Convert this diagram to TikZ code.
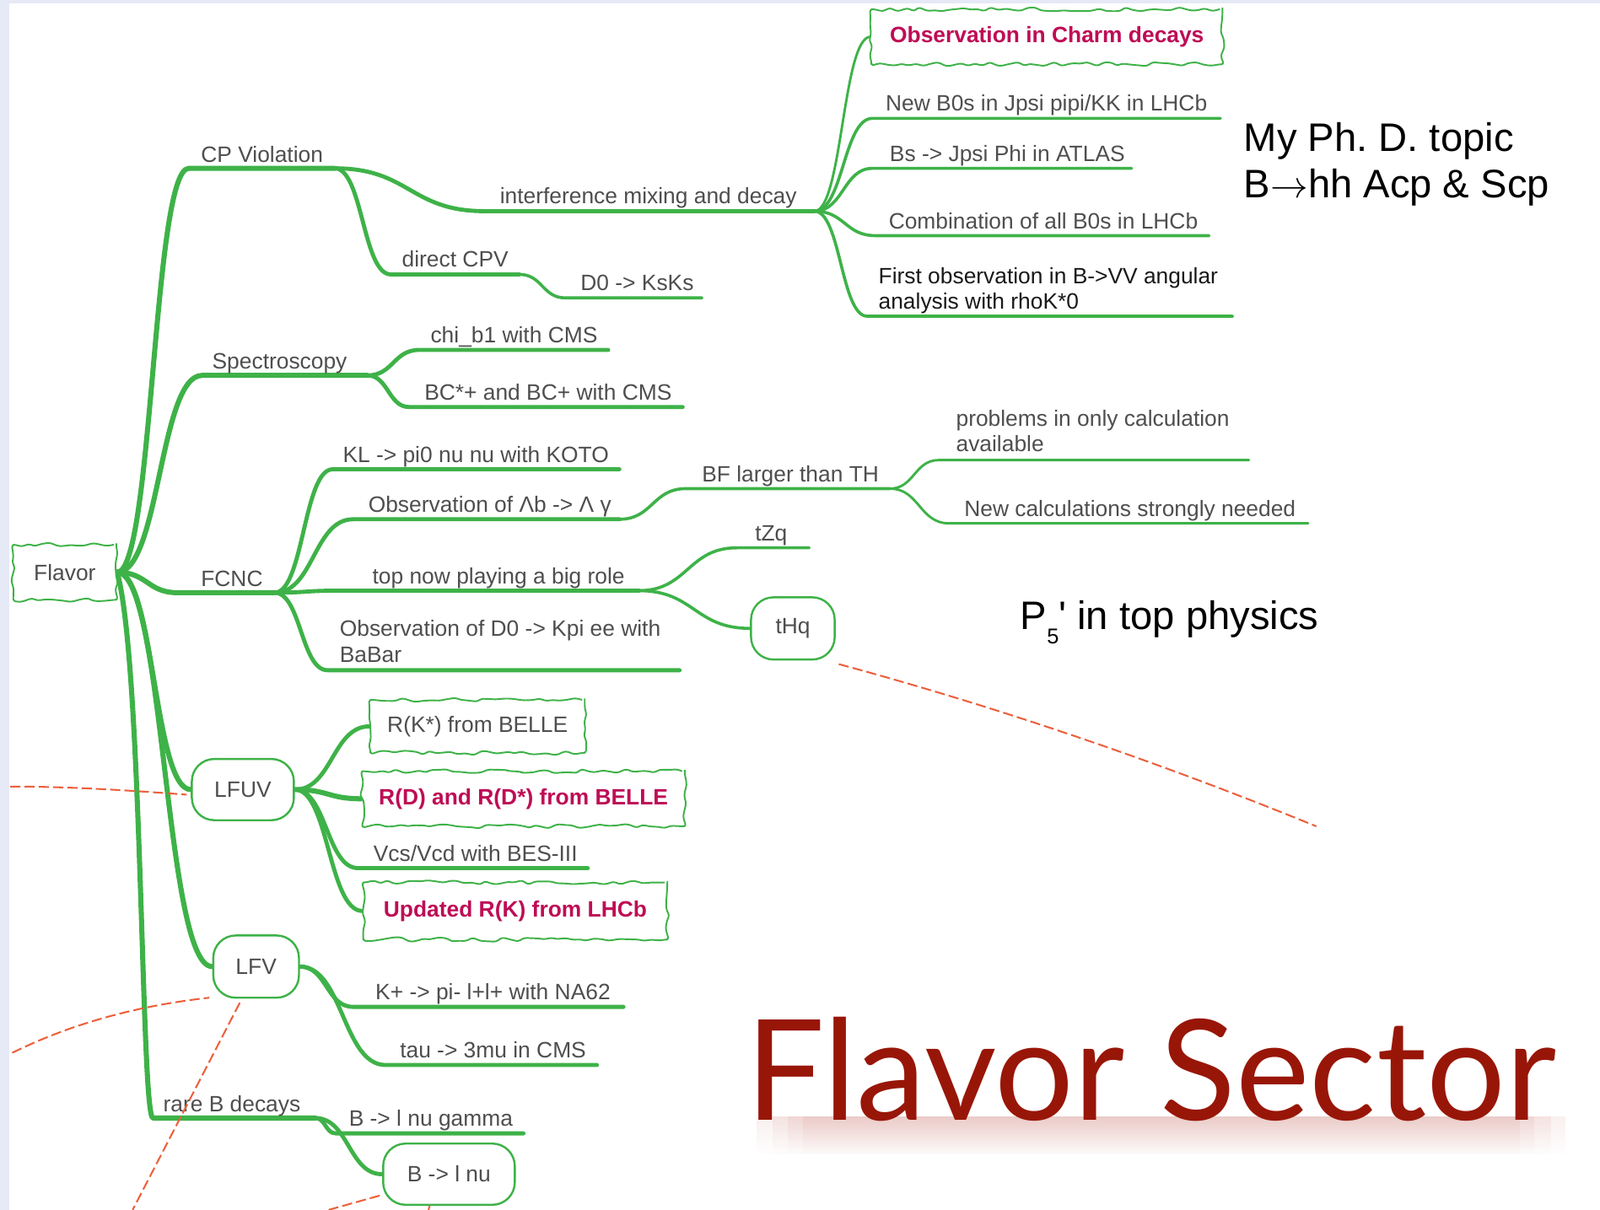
\documentclass[tikz,border=0pt]{standalone}
\usepackage{fontspec}
\usepackage{graphicx}
\setmainfont{Liberation Sans}
\newfontfamily\arialtxt{Liberation Sans}
\newfontfamily\flfont{Lato}
\usetikzlibrary{calc,decorations.pathmorphing,fadings}
\pgfdeclarelayer{back}
\pgfdeclarelayer{lines}
\pgfsetlayers{back,lines,main}
\definecolor{mmgreen}{RGB}{62,178,72}
\definecolor{labgray}{RGB}{78,78,78}
\definecolor{crim}{RGB}{190,12,85}
\definecolor{dred}{RGB}{152,22,8}
\definecolor{shad}{RGB}{205,120,110}
\definecolor{redash}{RGB}{236,96,60}
\definecolor{lav}{RGB}{230,233,246}
\newcommand\labfont{\fontsize{21.8}{25}\selectfont}
\newcommand\bigfont{\arialtxt\fontsize{39}{46}\selectfont}
\tikzfading[name=shfade, top color=transparent!0, bottom color=transparent!100]
\tikzset{
  br/.style={to path={let \p1=(\tikztostart), \p2=(\tikztotarget), \n1={#1*(\x2-\x1)} in .. controls (\x1+\n1,\y1) and (\x2-\n1,\y2) .. (\tikztotarget) \tikztonodes}},
  br/.default=0.5,
  g1/.style={draw=mmgreen,line width=5pt,line cap=round,line join=round},
  g2/.style={draw=mmgreen,line width=4pt,line cap=round,line join=round},
  g3/.style={draw=mmgreen,line width=3pt,line cap=round,line join=round},
  g4/.style={draw=mmgreen,line width=2.4pt,line cap=round,line join=round},
  lab/.style={anchor=south west,inner sep=0pt,outer sep=0pt,text depth=0pt,text=labgray,font=\labfont,align=left},
  cloudn/.style={draw=mmgreen,line width=1.6pt,line join=round,fill=white,decorate,decoration={random steps,segment length=7pt,amplitude=2.2pt},rounded corners=2.5pt,inner sep=0pt,font=\labfont,text=labgray},
  hot/.style={font=\labfont\bfseries,text=crim},
  rnode/.style={draw=mmgreen,line width=2pt,fill=white,rounded corners=22pt,inner sep=0pt,font=\labfont,text=labgray},
  reddash/.style={draw=redash,line width=1.7pt,dash pattern=on 10pt off 4pt},
  bigtxt/.style={anchor=south west,inner sep=0pt,outer sep=0pt,text depth=0pt,font=\bigfont,align=left}
}
\begin{document}
\frenchspacing
\begin{tikzpicture}[x=1pt,y=-1pt]
\useasboundingbox (0,0) rectangle (1568,1186);
\begin{pgfonlayer}{back}
\fill[lav] (0,0) rectangle (1568,1186);
\fill[white] (9,3) rectangle (1568,1186);
\end{pgfonlayer}

% ---- boxed nodes
\node[cloudn,minimum width=101pt,minimum height=54pt] (fl) at (63.5,561) {Flavor};
\node[cloudn,hot,minimum width=344pt,minimum height=54pt] (charm) at (1026,36) {Observation in Charm decays};
\node[cloudn,minimum width=210pt,minimum height=52pt] (rks) at (468,712) {R(K*) from BELLE};
\node[cloudn,hot,minimum width=316pt,minimum height=54pt] (rd) at (513,783) {R(D) and R(D*) from BELLE};
\node[cloudn,hot,minimum width=298pt,minimum height=56pt] (upd) at (505,893) {Updated R(K) from LHCb};
\node[rnode,minimum width=100pt,minimum height=60pt] (lfuv) at (238,774) {LFUV};
\node[rnode,minimum width=84pt,minimum height=61pt] (lfv) at (251,947.5) {LFV};
\node[rnode,minimum width=82pt,minimum height=61pt] (thq) at (777,616) {tHq};
\node[rnode,minimum width=129pt,minimum height=60pt] (bln) at (440,1151) {B -> l nu};

% ---- underline end points
\coordinate (cpA) at (185,165); \coordinate (cpB) at (328,165);
\coordinate (spA) at (198,368); \coordinate (spB) at (360,368);
\coordinate (fcA) at (174,581); \coordinate (fcB) at (269,581);
\coordinate (rbA) at (150,1096); \coordinate (rbB) at (309,1096);
\coordinate (imA) at (475,207); \coordinate (imB) at (798,207);
\coordinate (dcA) at (383,269); \coordinate (dcB) at (509,269);
\coordinate (ksA) at (554,292); \coordinate (ksB) at (688,292);
\coordinate (nbA) at (855,116); \coordinate (nbB) at (1196,116);
\coordinate (bsA) at (855,165); \coordinate (bsB) at (1109,165);
\coordinate (cbA) at (858,231); \coordinate (cbB) at (1185,231);
\coordinate (foA) at (850,310); \coordinate (foB) at (1208,310);
\coordinate (chA) at (411,343); \coordinate (chB) at (596,343);
\coordinate (bcA) at (401,399); \coordinate (bcB) at (669,399);
\coordinate (klA) at (326,460); \coordinate (klB) at (607,460);
\coordinate (lbA) at (346,509); \coordinate (lbB) at (607,509);
\coordinate (bfA) at (672,479); \coordinate (bfB) at (872,479);
\coordinate (prA) at (920,451); \coordinate (prB) at (1224,451);
\coordinate (ncA) at (930,513); \coordinate (ncB) at (1282,513);
\coordinate (tpA) at (330,579); \coordinate (tpB) at (626,579);
\coordinate (tzA) at (722,537); \coordinate (tzB) at (793,537);
\coordinate (dkA) at (321,657); \coordinate (dkB) at (666,657);
\coordinate (vcA) at (351,851); \coordinate (vcB) at (576,851);
\coordinate (kpA) at (346,987); \coordinate (kpB) at (611,987);
\coordinate (taA) at (378,1044); \coordinate (taB) at (585,1044);
\coordinate (bgA) at (329,1111); \coordinate (bgB) at (513,1111);

% ---- labels
\node[lab] (tcp) at (197,159) {CP Violation};
\node[lab] (tsp) at (208,362) {Spectroscopy};
\node[lab] (tfc) at (197,575) {FCNC};
\node[lab] (trb) at (160,1090) {rare B decays};
\node[lab] (tim) at (490,200) {interference mixing and decay};
\node[lab] (tdc) at (394,262) {direct CPV};
\node[lab] (tks) at (569,285) {D0 -> KsKs};
\node[lab] (tnb) at (868,109) {New B0s in Jpsi pipi/KK in LHCb};
\node[lab] (tbs) at (872,158) {Bs -> Jpsi Phi in ATLAS};
\node[lab] (tcb) at (871,224) {Combination of all B0s in LHCb};
\node[lab,text=black!90] (tfo) at (861,303) {First observation in B->VV angular\\analysis with rhoK*0};
\node[lab] (tch) at (422,336) {chi\_b1 with CMS};
\node[lab] (tbc) at (416,392) {BC*+ and BC+ with CMS};
\node[lab] (tkl) at (336,453) {KL -> pi0 nu nu with KOTO};
\node[lab] (tlb) at (361,502) {Observation of Λb -> Λ γ};
\node[lab] (tbf) at (688,472) {BF larger than TH};
\node[lab] (tpr) at (937,443) {problems in only calculation\\available};
\node[lab] (tnc) at (945,506) {New calculations strongly needed};
\node[lab] (ttp) at (365,572) {top now playing a big role};
\node[lab] (ttz) at (740,530) {tZq};
\node[lab] (tdk) at (333,649) {Observation of D0 -> Kpi ee with\\BaBar};
\node[lab] (tvc) at (366,844) {Vcs/Vcd with BES-III};
\node[lab] (tkp) at (368,980) {K+ -> pi- l+l+ with NA62};
\node[lab] (tta) at (392,1037) {tau -> 3mu in CMS};
\node[lab] (tbg) at (342,1104) {B -> l nu gamma};

% ---- connectors
\begin{pgfonlayer}{lines}
\draw[g1] (fl.east) to[br] (cpA) -- (cpB);
\draw[g1] (fl.east) to[br] (spA) -- (spB);
\draw[g1] (fl.east) to[br] (fcA) -- (fcB);
\draw[g1] (fl.east) to[br] (lfuv.west);
\draw[g1] (fl.east) to[br] (lfv.west);
\draw[g1] (fl.east) .. controls (140,650) and (138,1096) .. (rbA) -- (rbB);
\draw[g2] (cpB) to[br] (imA) -- (imB);
\draw[g2] (cpB) to[br] (dcA) -- (dcB);
\draw[g3] (dcB) to[br] (ksA) -- (ksB);
\draw[g4] (imB) to[br] (charm.west);
\draw[g3] (imB) to[br] (nbA) -- (nbB);
\draw[g3] (imB) to[br] (bsA) -- (bsB);
\draw[g3] (imB) to[br] (cbA) -- (cbB);
\draw[g3] (imB) to[br] (foA) -- (foB);
\draw[g2] (spB) to[br] (chA) -- (chB);
\draw[g2] (spB) to[br] (bcA) -- (bcB);
\draw[g2] (fcB) to[br] (klA) -- (klB);
\draw[g2] (fcB) to[br] (lbA) -- (lbB);
\draw[g3] (lbB) to[br] (bfA) -- (bfB);
\draw[g4] (bfB) to[br] (prA) -- (prB);
\draw[g4] (bfB) to[br] (ncA) -- (ncB);
\draw[g2] (fcB) to[br] (tpA) -- (tpB);
\draw[g3] (tpB) to[br] (tzA) -- (tzB);
\draw[g3] (tpB) to[br] (thq.west);
\draw[g2] (fcB) to[br] (dkA) -- (dkB);
\draw[g2] (lfuv.east) to[br] (rks.west);
\draw[g1] (lfuv.east) to[br] (rd.west);
\draw[g2] (lfuv.east) to[br] (vcA) -- (vcB);
\draw[g2] (lfuv.east) to[br] (upd.west);
\draw[g2] (lfv.east) to[br] (kpA) -- (kpB);
\draw[g2] (lfv.east) to[br] (taA) -- (taB);
\draw[g2] (rbB) to[br] (bgA) -- (bgB);
\draw[g2] (rbB) to[br] (bln.west);
\end{pgfonlayer}

% ---- annotations
\node[bigtxt] (phd) at (1219,194) {My Ph. D. topic\\B\scalebox{3.7}{\normalsize\(\rightarrow\)}hh Acp \& Scp};
\node[bigtxt] (p5) at (1000,617) {P\raisebox{-14pt}{\fontsize{21}{21}\selectfont 5}' in top physics};

\foreach \i in {0,15,30,45}
  \fill[shad,opacity=0.11,path fading=shfade] (742+\i,1094) rectangle (1535-\i,1132);
\node[anchor=south west,inner sep=0pt,outer sep=0pt,text depth=0pt,text=dred] (fs) at (731,1098) {\resizebox{794pt}{101pt}{\flfont Flavor Sector}};

% ---- red dashed strokes
\coordinate (ra1) at (10,771);   \coordinate (ra2) at (183,779);
\coordinate (rb1) at (12,1032);  \coordinate (rb2) at (205,978);
\coordinate (rc1) at (235,983);  \coordinate (rc2) at (130,1186);
\coordinate (rd1) at (372,1172); \coordinate (rd2) at (322,1186);
\coordinate (re1) at (421,1182); \coordinate (re2) at (420,1186);
\coordinate (rx1) at (822,651);  \coordinate (rx2) at (1290,810);
\draw[reddash] (rx1) .. controls (977,693) and (1133,746) .. (rx2);
\draw[reddash] (ra1) .. controls (70,771) and (130,775) .. (ra2);
\draw[reddash] (rb1) .. controls (69,1004) and (133,986) .. (rb2);
\draw[reddash] (rc1) -- (rc2);
\draw[reddash] (rd1) -- (rd2);
\draw[reddash] (re1) -- (re2);
\end{tikzpicture}
\end{document}
